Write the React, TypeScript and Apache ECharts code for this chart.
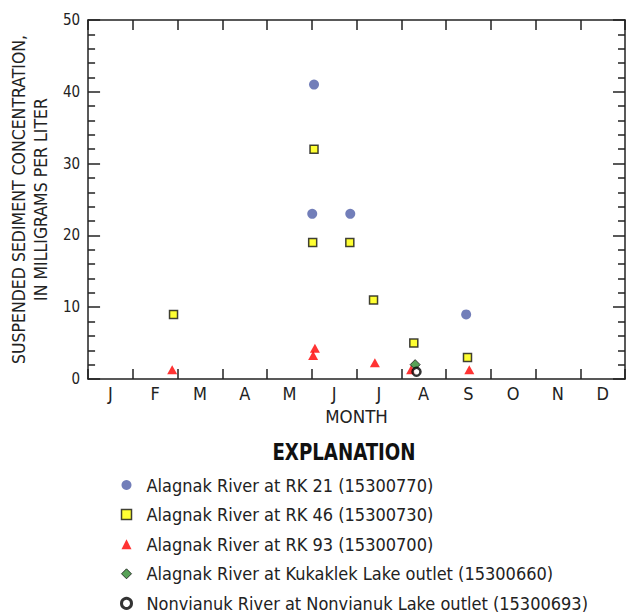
import React, { useEffect, useRef } from "react";
import * as echarts from "echarts";

// Month labels (x axis spans Jan 1 .. Dec 31 as 0..12 months)
const months = ["J", "F", "M", "A", "M", "J", "J", "A", "S", "O", "N", "D"];

// [month position, concentration mg/L]
const rk21 = [
  [5.05, 41],
  [5.01, 23],
  [5.86, 23],
  [8.45, 9],
];
const rk46 = [
  [1.91, 9],
  [5.05, 32],
  [5.02, 19],
  [5.85, 19],
  [6.38, 11],
  [7.28, 5],
  [8.48, 3],
];
const rk93 = [
  [1.88, 1],
  [5.07, 4],
  [5.03, 3],
  [6.41, 2],
  [7.22, 1],
  [8.52, 1],
];
const kukaklek = [[7.31, 2]];
const nonvianuk = [[7.34, 1]];

const seriesNames = [
  "Alagnak River at RK 21 (15300770)",
  "Alagnak River at RK 46 (15300730)",
  "Alagnak River at RK 93 (15300700)",
  "Alagnak River at Kukaklek Lake outlet (15300660)",
  "Nonvianuk River at Nonvianuk Lake outlet (15300693)",
];

const FONT = "'Liberation Sans Narrow', 'Arial Narrow', 'DejaVu Sans Condensed', sans-serif";
const INK = "#222";

export default function App() {
  const ref = useRef<HTMLDivElement>(null);

  useEffect(() => {
    document.body.style.margin = "0";
    if (!ref.current) return;
    const chart = echarts.init(ref.current, null, { renderer: "svg" });

    const axisLine = { show: true, onZero: false, lineStyle: { color: INK, width: 1.5 } };
    const tickStyle = { color: INK, width: 1.5 };

    const valueX = (position: string) => ({
      type: "value",
      min: 0,
      max: 12,
      interval: 1,
      position,
      axisLine,
      axisTick: { show: true, inside: true, length: 10, lineStyle: tickStyle },
      axisLabel: { show: false },
      splitLine: { show: false },
    });

    const valueY = (position: string, labels: boolean) => ({
      type: "value",
      min: 0,
      max: 50,
      interval: 10,
      position,
      axisLine,
      axisTick: { show: true, inside: true, length: 12, lineStyle: tickStyle },
      minorTick: { show: true, splitNumber: 5, length: 7, lineStyle: tickStyle },
      axisLabel: labels
        ? { show: true, fontSize: 15, color: INK, fontFamily: FONT, margin: 8 }
        : { show: false },
      splitLine: { show: false },
      ...(labels
        ? {
            name: "SUSPENDED SEDIMENT CONCENTRATION,\nIN MILLIGRAMS PER LITER",
            nameLocation: "middle",
            nameRotate: 90,
            nameGap: 32,
            nameTextStyle: { fontSize: 17.5, lineHeight: 22, color: INK, fontFamily: FONT },
          }
        : {}),
    });

    chart.setOption({
      animation: false,
      backgroundColor: "#ffffff",
      grid: { left: 88, right: 1, top: 20, bottom: 235, containLabel: false },
      xAxis: [
        valueX("bottom"),
        {
          type: "category",
          data: months,
          position: "bottom",
          boundaryGap: true,
          axisLine: { show: false },
          axisTick: { show: false },
          axisLabel: { show: true, fontSize: 18, color: INK, fontFamily: FONT, margin: 5 },
          name: "MONTH",
          nameLocation: "middle",
          nameGap: 26,
          nameTextStyle: { fontSize: 18.5, color: INK, fontFamily: FONT },
        },
        valueX("top"),
      ],
      yAxis: [valueY("left", true), valueY("right", false)],
      legend: {
        orient: "vertical",
        left: 120,
        top: 476,
        padding: 0,
        itemWidth: 10,
        itemHeight: 10,
        itemGap: 11.6,
        data: [
          { name: seriesNames[0] },
          { name: seriesNames[1], itemStyle: { borderWidth: 1.5 } },
          { name: seriesNames[2] },
          { name: seriesNames[3], itemStyle: { borderWidth: 1 } },
          { name: seriesNames[4], itemStyle: { borderWidth: 3 } },
        ],
        textStyle: {
          fontSize: 18,
          lineHeight: 18,
          color: INK,
          fontFamily: FONT,
          padding: [0, 0, 0, 10],
        },
        selectedMode: false,
      },
      graphic: [
        {
          type: "text",
          x: 344,
          y: 452,
          scaleX: 0.88,
          style: {
            text: "EXPLANATION",
            align: "center",
            verticalAlign: "middle",
            fontSize: 23,
            fontWeight: "bold",
            fontFamily: FONT,
            fill: "#111",
          },
        },
      ],
      series: [
        {
          name: seriesNames[0],
          type: "scatter",
          data: rk21,
          symbol: "circle",
          symbolSize: 10,
          itemStyle: { color: "#4f5ea8" },
        },
        {
          name: seriesNames[1],
          type: "scatter",
          data: rk46,
          symbol: "rect",
          symbolSize: 8,
          itemStyle: { color: "#ffff00", borderColor: "#111", borderWidth: 1.5 },
        },
        {
          name: seriesNames[2],
          type: "scatter",
          data: rk93,
          symbol: "triangle",
          symbolSize: [10, 9],
          symbolOffset: [0, -2],
          itemStyle: { color: "#ff0000" },
        },
        {
          name: seriesNames[3],
          type: "scatter",
          data: kukaklek,
          symbol: "diamond",
          symbolSize: 10,
          itemStyle: { color: "#2e8b2e", borderColor: "#111", borderWidth: 1 },
        },
        {
          name: seriesNames[4],
          type: "scatter",
          data: nonvianuk,
          symbol: "circle",
          symbolSize: 8,
          itemStyle: { color: "#ffffff", borderColor: "#000", borderWidth: 2.5 },
        },
      ],
    });

    return () => chart.dispose();
  }, []);

  return <div ref={ref} style={{ width: 626, height: 614 }} />;
}
